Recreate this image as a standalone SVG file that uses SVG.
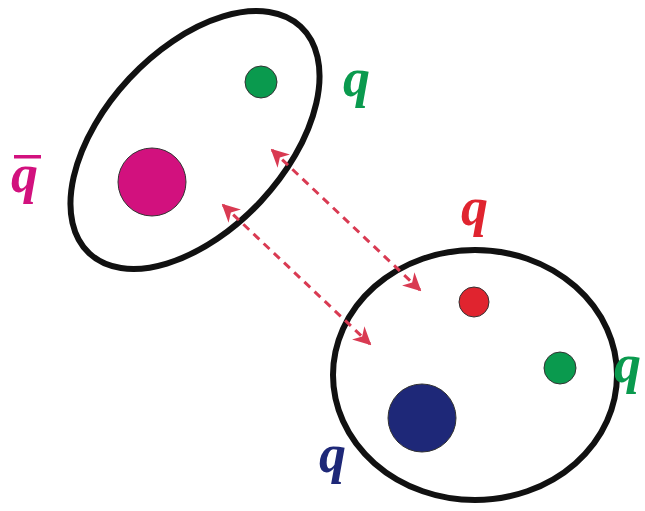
<svg xmlns="http://www.w3.org/2000/svg" width="645" height="511" viewBox="0 0 645 511">
<style>
.ring{fill:none;stroke:#111;stroke-width:6}
.lbl{font-family:"Liberation Serif",serif;font-weight:bold;font-style:italic;font-size:54px}
.link{stroke:#d93a52;stroke-width:3;stroke-dasharray:8 6;fill:none;marker-start:url(#ah);marker-end:url(#ah)}
</style>
<defs>
<marker id="ah" viewBox="0 0 10 10" refX="9" refY="5" markerWidth="6" markerHeight="6" orient="auto-start-reverse" markerUnits="strokeWidth">
<path d="M0,0 L10,5 L0,10 L3,5 Z" fill="#d93a52"/>
</marker>
</defs>
<rect width="645" height="511" fill="#fff"/>
<g id="hadron1">
<ellipse class="ring" cx="195" cy="140" rx="155" ry="90" transform="rotate(-47 195 140)"/>
<circle cx="261" cy="82" r="16" fill="#0a9a4e" stroke="#333" stroke-width="1"/>
<circle cx="152" cy="182" r="34" fill="#d2117e" stroke="#333" stroke-width="1"/>
<text class="lbl" x="343" y="96" fill="#0a9a4e">q</text>
<text class="lbl" x="11" y="192" fill="#d2117e">q</text>
<rect x="14" y="155" width="27" height="3.5" fill="#d2117e"/>
</g>
<g id="hadron2">
<ellipse class="ring" cx="475" cy="375" rx="142" ry="125"/>
<circle cx="474" cy="302" r="15" fill="#e0242f" stroke="#333" stroke-width="1"/>
<circle cx="560" cy="368" r="16" fill="#0a9a4e" stroke="#333" stroke-width="1"/>
<circle cx="422" cy="418" r="34" fill="#1e2878" stroke="#333" stroke-width="1"/>
<text class="lbl" x="461" y="225" fill="#e0242f">q</text>
<text class="lbl" x="614" y="382" fill="#0a9a4e">q</text>
<text class="lbl" x="319" y="472" fill="#1e2878">q</text>
</g>
<g id="connectors">
<line class="link" x1="272" y1="150" x2="420" y2="290"/>
<line class="link" x1="223" y1="205" x2="370" y2="344"/>
</g>
</svg>
